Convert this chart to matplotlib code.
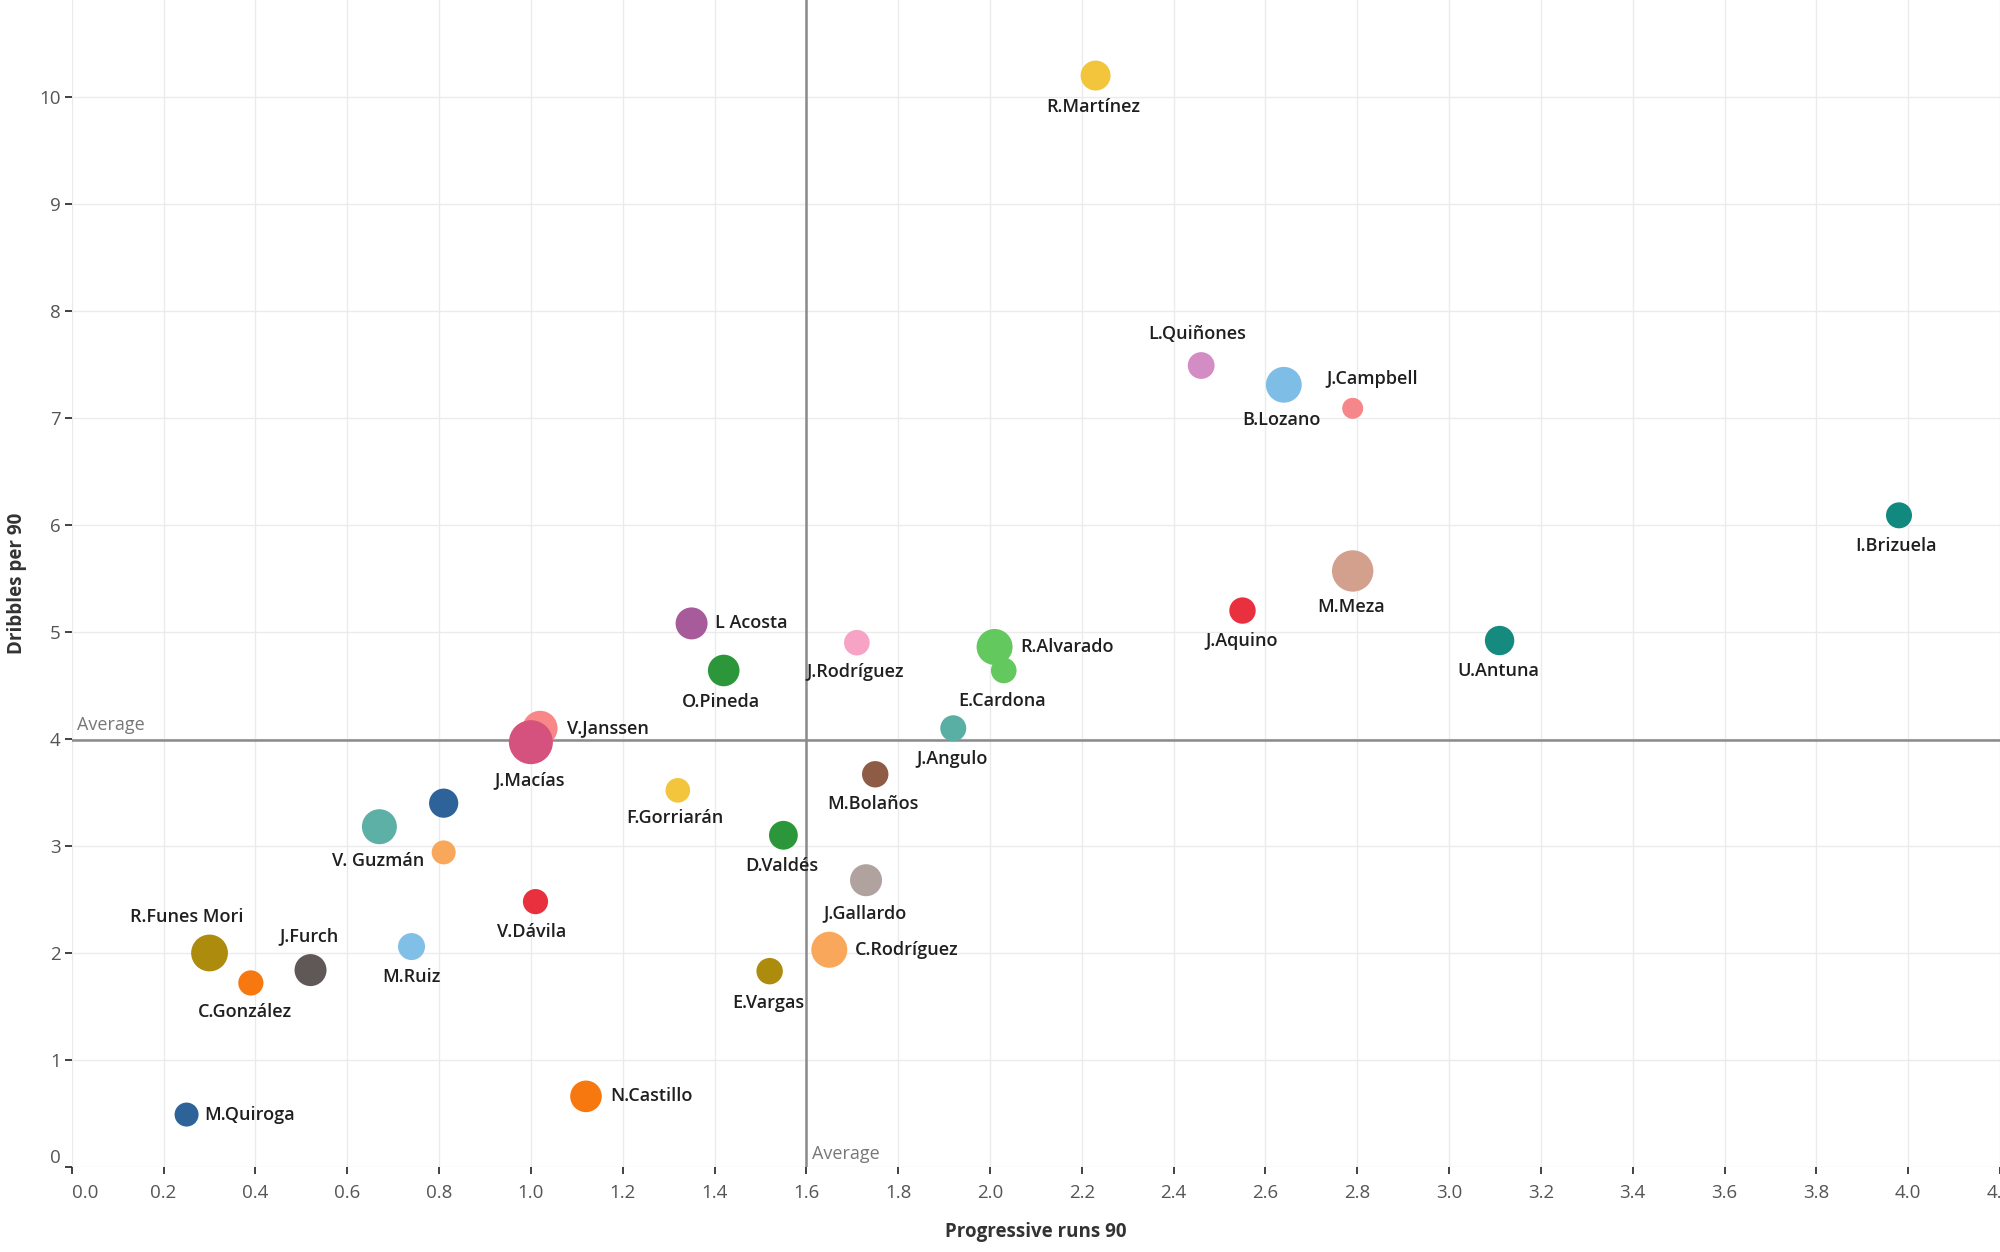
import matplotlib
matplotlib.use("Agg")
import matplotlib.pyplot as plt

# ---------------- data ----------------
players = ["R.Martínez", "L.Quiñones", "B.Lozano", "J.Campbell", "I.Brizuela", "M.Meza",
           "J.Aquino", "U.Antuna", "L Acosta", "O.Pineda", "J.Rodríguez", "R.Alvarado",
           "E.Cardona", "J.Angulo", "V.Janssen", "J.Macías", "M.Bolaños", "F.Gorriarán",
           "", "V. Guzmán", "", "D.Valdés", "J.Gallardo", "V.Dávila", "C.Rodríguez",
           "E.Vargas", "R.Funes Mori", "C.González", "J.Furch", "M.Ruiz", "N.Castillo",
           "M.Quiroga"]
progressive_runs_90 = [2.23, 2.46, 2.64, 2.79, 3.98, 2.79,
                       2.55, 3.11, 1.35, 1.42, 1.71, 2.01,
                       2.03, 1.92, 1.02, 1.00, 1.75, 1.32,
                       0.81, 0.67, 0.81, 1.55, 1.73, 1.01, 1.65,
                       1.52, 0.30, 0.39, 0.52, 0.74, 1.12,
                       0.25]
dribbles_per_90 = [10.20, 7.49, 7.31, 7.09, 6.09, 5.57,
                   5.20, 4.92, 5.08, 4.64, 4.90, 4.86,
                   4.64, 4.10, 4.10, 3.97, 3.67, 3.52,
                   3.40, 3.18, 2.94, 3.10, 2.68, 2.48, 2.03,
                   1.83, 2.00, 1.72, 1.84, 2.06, 0.66,
                   0.49]
bubble_value = [15.0, 13.4, 17.9, 10.5, 13.0, 20.7,
                13.2, 14.7, 16.0, 15.8, 12.8, 18.0,
                12.8, 13.0, 17.5, 22.0, 13.2, 12.3,
                14.6, 17.5, 12.0, 14.4, 16.0, 12.6, 18.0,
                13.2, 18.4, 12.6, 16.0, 13.5, 15.8,
                12.0]
avg_x = 1.6
avg_y = 3.99
x_ticks = [0.0, 0.2, 0.4, 0.6, 0.8, 1.0, 1.2, 1.4, 1.6, 1.8, 2.0, 2.2, 2.4, 2.6, 2.8, 3.0,
           3.2, 3.4, 3.6, 3.8, 4.0, 4.2]
y_ticks = [0, 1, 2, 3, 4, 5, 6, 7, 8, 9, 10]

# ---------------- styles ----------------
colors = ["#F2C53D", "#D38DC4", "#7DBDE6", "#F5868A", "#12897E", "#D3A08E",
          "#E9303F", "#158B80", "#A75B9A", "#2C973A", "#F6A3C6", "#63C85E",
          "#63C85E", "#5AAFA5", "#F88888", "#D5527F", "#8E5B45", "#F2C53D",
          "#2E6399", "#5DB0A5", "#F9A85B", "#2C973A", "#B0A29E", "#E9303F", "#F9A85B",
          "#AD8B0C", "#AD8B0C", "#F7780F", "#605856", "#80BFE6", "#F7780F",
          "#2E6399"]
# label offsets (display px of reference preview) and alignment
label_layout = {
    "R.Martínez": (-2, -25, "center"), "L.Quiñones": (-3, 25, "center"),
    "B.Lozano": (-2, -28, "center"), "J.Campbell": (15, 23, "center"),
    "I.Brizuela": (-2, -24, "center"), "M.Meza": (-1, -28, "center"),
    "J.Aquino": (-1, -24, "center"), "U.Antuna": (-1, -24, "center"),
    "L Acosta": (18, 0, "left"), "O.Pineda": (-2, -25, "center"),
    "J.Rodríguez": (-1, -23, "center"), "R.Alvarado": (20, 0, "left"),
    "E.Cardona": (-1, -24, "center"), "J.Angulo": (-1, -24, "center"),
    "V.Janssen": (21, 0, "left"), "J.Macías": (-1, -30, "center"),
    "M.Bolaños": (-2, -23, "center"), "F.Gorriarán": (-2, -22, "center"),
    "V. Guzmán": (-1, -27, "center"), "D.Valdés": (-1, -24, "center"),
    "J.Gallardo": (-1, -26, "center"), "V.Dávila": (-3, -24, "center"),
    "C.Rodríguez": (20, 0, "left"), "E.Vargas": (-1, -25, "center"),
    "R.Funes Mori": (-18, 28, "center"), "C.González": (-5, -23, "center"),
    "J.Furch": (-1, 27, "center"), "M.Ruiz": (0, -24, "center"),
    "N.Castillo": (19, 0, "left"), "M.Quiroga": (14, 0, "left"),
}
PT = 0.918  # preview px -> points

FONT = ["Open Sans", "DejaVu Sans"]
plt.rcParams["font.family"] = FONT

fig = plt.figure(figsize=(20, 12.52), dpi=100)
ax = fig.add_axes([0.0359, 0.0679, 0.9641, 0.9321])
ax.set_xlim(0, 4.2)
ax.set_ylim(0, 10.906)

for s in ax.spines.values():
    s.set_visible(False)
ax.set_xticks(x_ticks)
ax.set_yticks(y_ticks)
ax.set_xticklabels([f"{t:.1f}" for t in x_ticks])
ax.set_yticklabels([str(t) for t in y_ticks])
ax.grid(True, color="#ebebeb", linewidth=1.0, zorder=0)
ax.set_axisbelow(True)
ax.tick_params(axis="both", colors="#333333", labelcolor="#555555", labelsize=13.5,
               width=1.3, length=5)
ax.tick_params(axis="x", pad=7)
ax.tick_params(axis="y", pad=3)
xl = ax.get_xticklabels()
xl[0].set_horizontalalignment("left")
yl = ax.get_yticklabels()
yl[0].set_verticalalignment("bottom")

ax.axhline(avg_y, color="#8a8a8a", linewidth=1.8, zorder=1)
ax.axvline(avg_x, color="#8a8a8a", linewidth=1.8, zorder=1)
ax.annotate("Average", xy=(0, avg_y), xytext=(4, 4), textcoords="offset points",
            ha="left", va="bottom", fontsize=13, color="#777777")
ax.annotate("Average", xy=(avg_x, 0), xytext=(4, 3), textcoords="offset points",
            ha="left", va="bottom", fontsize=13, color="#777777")

sizes = [(2 * r * 0.72) ** 2 for r in bubble_value]
ax.scatter(progressive_runs_90, dribbles_per_90, s=sizes, c=colors, linewidths=0,
           zorder=3)

for name, x, y in zip(players, progressive_runs_90, dribbles_per_90):
    if not name:
        continue
    dx, dy, ha = label_layout[name]
    ax.annotate(name, xy=(x, y), xytext=(dx * PT, dy * PT), textcoords="offset points",
                ha=ha, va="center", fontsize=13, fontweight="semibold", color="#1f1f1f",
                zorder=4)

ax.set_xlabel("Progressive runs 90", fontsize=13.5, fontweight="bold", color="#333333",
              labelpad=15)
ax.set_ylabel("Dribbles per 90", fontsize=13.5, fontweight="bold", color="#333333",
              labelpad=9)

fig.savefig("out.png", dpi=100)
